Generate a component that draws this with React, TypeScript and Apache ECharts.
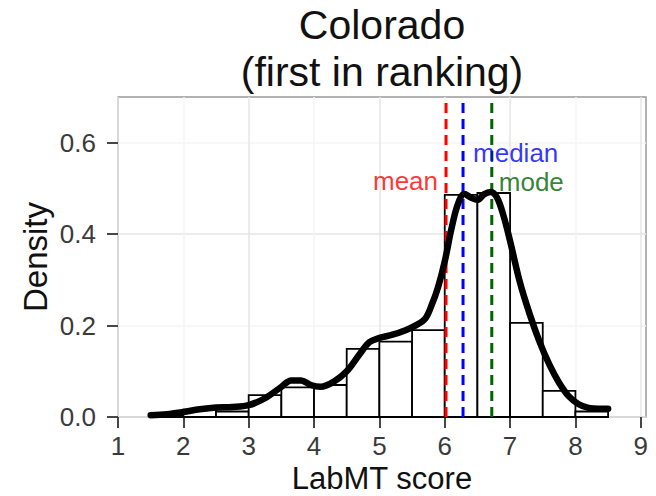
import React, { useEffect, useRef } from "react";
import * as echarts from "echarts";

// Histogram bins (edges) and their density heights
const binEdges = [1.5, 2, 2.5, 3, 3.5, 4, 4.5, 5, 5.5, 6, 6.5, 7, 7.5, 8, 8.5];
const binDensity = [0.004, 0.016, 0.012, 0.048, 0.065, 0.07, 0.149, 0.165, 0.19, 0.486, 0.49, 0.206, 0.057, 0.012];

// Kernel density estimate
const curveX = [1.5, 1.75, 2.0, 2.25, 2.5, 2.75, 3.0, 3.25, 3.5, 3.65, 3.8, 3.95, 4.1, 4.3, 4.5, 4.7, 4.85, 5.0, 5.2, 5.4, 5.55, 5.7, 5.8, 5.9, 6.0, 6.1, 6.2, 6.3, 6.4, 6.5, 6.6, 6.7, 6.8, 6.9, 7.0, 7.15, 7.3, 7.45, 7.6, 7.75, 7.9, 8.05, 8.2, 8.35, 8.5];
const curveY = [0.004, 0.006, 0.011, 0.017, 0.021, 0.022, 0.026, 0.041, 0.066, 0.08, 0.08, 0.07, 0.066, 0.077, 0.1, 0.138, 0.164, 0.173, 0.18, 0.19, 0.2, 0.215, 0.245, 0.285, 0.34, 0.41, 0.465, 0.488, 0.48, 0.475, 0.487, 0.492, 0.48, 0.44, 0.385, 0.295, 0.225, 0.165, 0.115, 0.075, 0.045, 0.028, 0.02, 0.018, 0.018];

// Summary statistics
const meanScore = 6.02;
const medianScore = 6.28;
const modeScore = 6.72;

const xTicks = [1, 2, 3, 4, 5, 6, 7, 8, 9];
const yTicks = [0, 0.2, 0.4, 0.6];

const FONT = "Liberation Sans";
const MAJOR = "#e6e6e6";
const MINOR = "#f4f4f4";

export default function App() {
  const ref = useRef<HTMLDivElement>(null);

  useEffect(() => {
    document.body.style.margin = "0";
    const chart = echarts.init(ref.current!, undefined, { renderer: "svg" });

    const bins = binDensity.map((d, i) => [binEdges[i], binEdges[i + 1], d]);
    const curve = curveX.map((x, i) => [x, curveY[i]]);
    const vline = (x: number, color: string) => ({
      type: "line",
      data: [[x, 0], [x, 0.7]],
      showSymbol: false,
      silent: true,
      z: 3,
      lineStyle: { color, width: 3, type: [10, 6] },
    });
    const statLabel = (x: number, y: number, text: string, color: string, position: string, distance: number) => ({
      value: [x, y],
      label: {
        show: true,
        formatter: text,
        position,
        distance,
        color,
        fontSize: 26,
        lineHeight: 24,
        fontFamily: FONT,
      },
    });

    chart.setOption({
      animation: false,
      backgroundColor: "#ffffff",
      grid: {
        left: 118,
        right: 10,
        top: 97,
        bottom: 79,
        show: true,
        backgroundColor: "#ffffff",
        borderColor: "#999999",
        borderWidth: 1.5,
        containLabel: false,
        outerBoundsMode: "none",
      },
      graphic: [
        {
          type: "text",
          x: 382,
          y: 25,
          style: { text: "Colorado", fontSize: 41, fontFamily: FONT, fill: "#111", textAlign: "center", textVerticalAlign: "middle" },
        },
        {
          type: "text",
          x: 382,
          y: 72,
          style: { text: "(first in ranking)", fontSize: 41, fontFamily: FONT, fill: "#111", textAlign: "center", textVerticalAlign: "middle" },
        },
      ],
      xAxis: {
        type: "value",
        min: 1,
        max: 9.08,
        interval: 0.5,
        axisLine: { show: false },
        axisTick: { show: true, length: 11, customValues: xTicks, lineStyle: { color: "#333", width: 1.8 } },
        axisLabel: { customValues: xTicks, margin: 16, fontSize: 26, lineHeight: 26, color: "#3a3a3a", fontFamily: FONT },
        splitLine: { show: true, lineStyle: { color: [MAJOR, MINOR], width: 1.5 } },
        name: "LabMT score",
        nameLocation: "middle",
        nameGap: 46,
        nameMoveOverlap: false,
        nameTextStyle: { fontSize: 31, lineHeight: 31, color: "#111", fontFamily: FONT },
      },
      yAxis: {
        type: "value",
        min: 0,
        max: 0.7,
        interval: 0.1,
        axisLine: { show: false },
        axisTick: { show: true, length: 11, customValues: yTicks, lineStyle: { color: "#333", width: 1.8 } },
        axisLabel: {
          customValues: yTicks,
          margin: 22,
          fontSize: 26,
          color: "#3a3a3a",
          fontFamily: FONT,
          formatter: (v: number) => v.toFixed(1),
        },
        splitLine: { show: true, lineStyle: { color: [MAJOR, MINOR], width: 1.5 } },
        name: "Density",
        nameLocation: "middle",
        nameGap: 66,
        nameMoveOverlap: false,
        nameTextStyle: { fontSize: 33, color: "#111", fontFamily: FONT },
      },
      series: [
        {
          type: "custom",
          z: 2,
          silent: true,
          data: bins,
          encode: { x: [0, 1], y: 2 },
          renderItem: (_params: any, api: any) => {
            const p0 = api.coord([api.value(0), api.value(2)]);
            const p1 = api.coord([api.value(1), 0]);
            return {
              type: "rect",
              shape: { x: p0[0], y: p0[1], width: p1[0] - p0[0], height: p1[1] - p0[1] },
              style: { fill: "#ffffff", stroke: "#000000", lineWidth: 1.8 },
            };
          },
        },
        vline(meanScore, "#ff0000"),
        vline(medianScore, "#0000ff"),
        vline(modeScore, "#006400"),
        {
          type: "line",
          data: curve,
          showSymbol: false,
          smooth: 0.35,
          silent: true,
          z: 4,
          lineStyle: { color: "#000000", width: 6.5, cap: "round", join: "round" },
        },
        {
          type: "scatter",
          symbolSize: 0,
          silent: true,
          z: 5,
          data: [
            statLabel(meanScore, 0.517, "mean", "#ff0000", "left", 8),
            statLabel(medianScore, 0.577, "median", "#0000ff", "right", 10),
            statLabel(modeScore, 0.515, "mode", "#006400", "right", 7),
          ],
        },
      ],
    });

    return () => chart.dispose();
  }, []);

  return <div ref={ref} style={{ width: 656, height: 496 }} />;
}
